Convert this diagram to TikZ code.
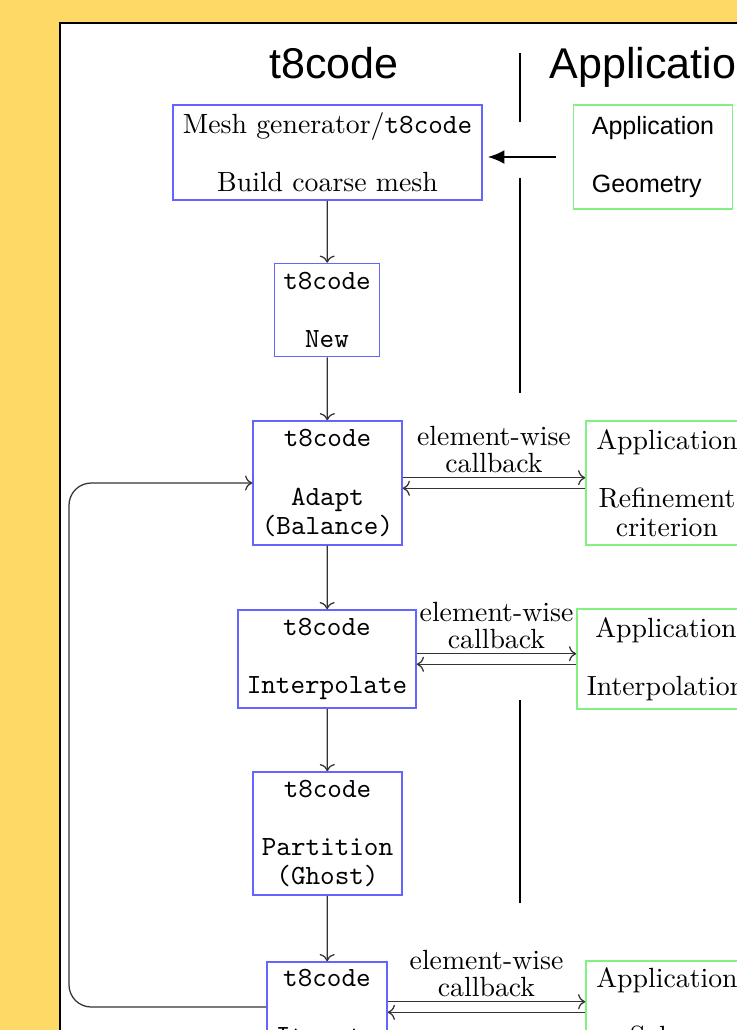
\documentclass[tikz,border=0pt]{standalone}
\usepackage{fontspec}
\newfontfamily\headfont{Liberation Sans}
\usetikzlibrary{arrows.meta}
\definecolor{panelbg}{RGB}{255,217,102}
\definecolor{t8blue}{RGB}{100,100,255}
\definecolor{appgreen}{RGB}{130,240,130}
\tikzset{
  t8box/.style={draw=t8blue, line width=0.55pt, align=center, inner sep=0pt,
    font=\fontsize{10}{10.5}\selectfont\ttfamily},
  appbox/.style={draw=appgreen, line width=0.55pt, align=center, inner sep=0pt,
    font=\fontsize{10}{10.5}\selectfont},
  link/.style={->, draw=black!80, line width=0.45pt},
  sep/.style={line width=0.9pt},
  headline/.style={inner sep=0pt, font=\headfont\fontsize{15.5}{18}\selectfont},
}
\begin{document}
\begin{tikzpicture}[x=0.36pt, y=-0.36pt]
\useasboundingbox (0,0) rectangle (737,1030);
\fill[panelbg] (0,0) rectangle (737,1030);
\draw[fill=white, line width=0.75pt] (60,23) rectangle (800,1100);

% headings and separator
\node[headline, anchor=base] (headt8) at (334,78) {t8code};
\node[headline, anchor=base west] (headapp) at (549,78) {Application};
\draw[sep] (520,53) -- (520,122);
\draw[sep] (520,178) -- (520,393);
\draw[sep] (520,700) -- (520,903);

% t8code side
\node[t8box, font=\fontsize{10}{10.5}\selectfont, minimum width=111.2pt, minimum height=34.2pt] (mesh) at (327.5,152.5) {Mesh generator/\texttt{t8code}\\[10.5pt]Build coarse mesh};
\node[t8box, minimum width=37.8pt, minimum height=33.5pt] (new) at (327,310) {t8code\\[10.5pt]New};
\node[t8box, minimum width=53.6pt, minimum height=44.6pt] (adapt) at (327.5,483) {t8code\\[10.5pt]Adapt\\(Balance)};
\node[t8box, minimum width=64.1pt, minimum height=35.3pt] (interp) at (327,659) {t8code\\[10.5pt]Interpolate};
\node[t8box, minimum width=53.6pt, minimum height=44.3pt] (part) at (327.5,833.5) {t8code\\[10.5pt]Partition\\(Ghost)};
\node[t8box, minimum width=43.2pt, minimum height=32.4pt] (iter) at (327,1007) {t8code\\[10.5pt]Iterate};

% application side
\node[appbox, align=left, font=\headfont\fontsize{9}{10.5}\selectfont, minimum width=57.2pt, minimum height=37.4pt] (geom) at (653,157) {Application\\[10.5pt]Geometry};
\node[appbox, minimum width=58.3pt, minimum height=44.6pt] (refine) at (667,483) {Application\\[10.5pt]Refinement\\criterion};
\node[appbox, minimum width=64.1pt, minimum height=36pt] (interpapp) at (666,659) {Application\\[10.5pt]Interpolation};
\node[appbox, minimum width=58.3pt, minimum height=33.1pt] (solve) at (667,1007) {Application\\[10.5pt]Solver};

% connectors
\draw[-{Latex[length=6pt,width=5pt]}, line width=0.8pt, shorten <=6pt, shorten >=1.8pt] (geom.west) -- (geom.west -| mesh.east);

\foreach \from/\to in {mesh/new,new/adapt,adapt/interp,interp/part,part/iter}
\draw[link] (\from) -- (\to);

\foreach \from/\to in {adapt/refine,interp/interpapp,iter/solve}{
  \draw[link] ([yshift=1.9pt]\from.east) -- node[above, align=center, inner sep=1.5pt, font=\fontsize{10}{9.7}\selectfont] {element-wise\\callback} ([yshift=1.9pt]\to.west);
  \draw[link] ([yshift=-1.9pt]\to.west) -- ([yshift=-1.9pt]\from.east);
}

\coordinate (loopturn) at (69,700);
\draw[link, rounded corners=8pt] (iter.west) -| (loopturn) |- (adapt.west);
\end{tikzpicture}
\end{document}
